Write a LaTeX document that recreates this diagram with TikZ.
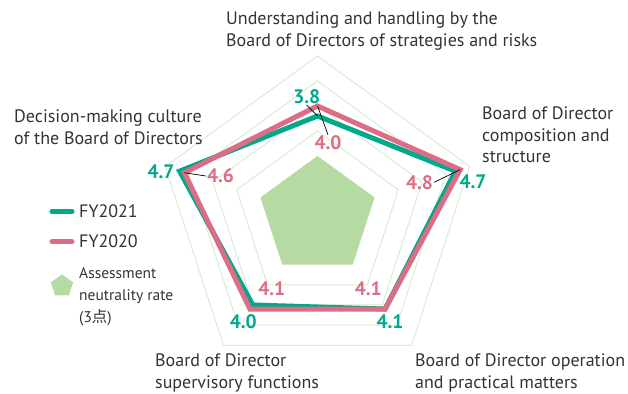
\documentclass[tikz,border=0pt]{standalone}
\usepackage{fontspec}
\setmainfont{PT Sans}
\newfontfamily\cjkfont{Noto Sans CJK JP}
\usetikzlibrary{positioning}
\usetikzlibrary{shapes.geometric}
\definecolor{fyteal}{HTML}{00A88C}
\definecolor{fypink}{HTML}{DD6C86}
\definecolor{gridgreen}{HTML}{D8EDCD}
\definecolor{neutralgreen}{HTML}{B6DBA2}
\definecolor{textgray}{HTML}{333333}

\begin{document}
\begin{tikzpicture}[%
x=1pt, y=1pt,
gridring/.style={draw=gridgreen,line width=1pt},
neutral/.style={fill=neutralgreen},
fy21/.style={draw=fyteal,line width=5pt},
fy20/.style={draw=fypink,line width=5pt},
value21/.style={text=fyteal,inner sep=1pt,font=\fontsize{19.5}{19.5}\selectfont\bfseries},
value20/.style={text=fypink,inner sep=1pt,font=\fontsize{19.5}{19.5}\selectfont\bfseries},
leader/.style={black,line width=0.7pt},
axislabel/.style={align=left,anchor=north west,inner sep=0pt,text=textgray,
  font=\fontsize{18}{21.5}\selectfont},
legendtext/.style={anchor=west,inner sep=0pt,text=textgray,
  font=\fontsize{18}{20}\selectfont}]
\path[use as bounding box] (0,0) rectangle (628,393);

\begin{scope}[shift={(317.5,177)}]
% rings and neutrality rate
\draw [gridring] (90:160) -- (18:160) -- (-54:160) -- (-126:160) -- (162:160) -- cycle;
\draw [gridring] (90:135) -- (18:135) -- (-54:135) -- (-126:135) -- (162:135) -- cycle;
\draw [gridring] (90:110) -- (18:110) -- (-54:110) -- (-126:110) -- (162:110) -- cycle;
\draw [gridring] (90:85)  -- (18:85)  -- (-54:85)  -- (-126:85)  -- (162:85)  -- cycle;
\fill [neutral]  (90:60)  -- (18:60)  -- (-54:60)  -- (-126:60)  -- (162:60)  -- cycle;
% FY2021
\coordinate (t21)  at (90:100);
\coordinate (r21)  at (18:145);
\coordinate (br21) at (-54:115);
\coordinate (bl21) at (-126:110);
\coordinate (l21)  at (162:145);
% FY2020
\coordinate (t20)  at (90:110);
\coordinate (r20)  at (18:150);
\coordinate (br20) at (-54:115);
\coordinate (bl20) at (-126:115);
\coordinate (l20)  at (162:140);
\draw [fy21] (t21) -- (r21) -- (br21) -- (bl21) -- (l21) -- cycle;
\draw [fy20] (t20) -- (r20) -- (br20) -- (bl20) -- (l20) -- cycle;
\end{scope}

% values
\node [value21] (v21top)   at (306.7,296.3) {3.8};
\node [value20] (v20top)   at (328,250)     {4.0};
\node [value21] (v21left)  at (161,221.3)   {4.7};
\node [value20] (v20left)  at (220.5,217)   {4.6};
\node [value20] (v20right) at (419.5,210.7) {4.8};
\node [value21] (v21right) at (473,211.3)   {4.7};
\node [value20] (v20bl)    at (271.7,104.7) {4.1};
\node [value20] (v20br)    at (368.3,104.7) {4.1};
\node [value21] (v21bl)    at (243.3,71.3)  {4.0};
\node [value21] (v21br)    at (390,71.3)    {4.1};
\draw [leader] (v21top.south)  -- (t21);
\draw [leader] (t20)           -- (v20top.north);
\draw [leader] (l20)           -- (v20left.west);
\draw [leader] (v20right.east) -- (r20);

% axis labels
\node [axislabel] (strategy)  at (226,381) {Understanding and handling by the\\Board of Directors of strategies and risks};
\node [axislabel] (structure) at (482,286) {Board of Director\\composition and\\structure};
\node [axislabel] (operation) at (415,39)  {Board of Director operation\\and practical matters};
\node [axislabel] (oversight) at (155,39)  {Board of Director\\supervisory functions};
\node [axislabel] (culture)   at (14,283)  {Decision-making culture\\of the Board of Directors};

% legend
\coordinate (leg21a) at (52,181.3);
\coordinate (leg21b) at (72,181.3);
\coordinate (leg20a) at (52,151.3);
\coordinate (leg20b) at (72,151.3);
\draw [fy21,line cap=round] (leg21a) -- (leg21b);
\draw [fy20,line cap=round] (leg20a) -- (leg20b);
\node [legendtext] (fy21text) at (79,181.3) {FY2021};
\node [legendtext] (fy20text) at (79,151.3) {FY2020};
\node [neutral,regular polygon,regular polygon sides=5,minimum size=23.4pt,inner sep=0pt] (neutralmark) at (62,107) {};
\node [axislabel,font=\fontsize{15.5}{22.3}\selectfont] (neutraltext) at (79,126) {Assessment\\neutrality rate\\(3{\cjkfont 点})};
\end{tikzpicture}
\end{document}
